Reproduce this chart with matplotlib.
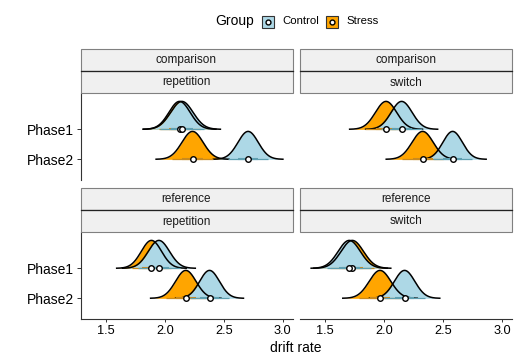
import numpy as np
import matplotlib.pyplot as plt
from matplotlib.patches import Rectangle

plt.rcParams['font.family'] = ['Liberation Sans', 'DejaVu Sans']

# facet labels (two strip rows per panel)
cue_labels = ["comparison", "comparison", "reference", "reference"]
trial_labels = ["repetition", "switch", "repetition", "switch"]
phases = ["Phase1", "Phase2"]
groups = ["Control", "Stress"]
x_ticks = [1.5, 2.0, 2.5, 3.0]
x_tick_labels = ["1.5", "2.0", "2.5", "3.0"]

# posterior drift rate summaries, per panel -> [Phase1, Phase2]
control_mean = [[2.145, 2.706], [2.147, 2.579], [1.950, 2.379], [1.703, 2.172]]
control_sd = [[0.095, 0.086], [0.089, 0.083], [0.090, 0.084], [0.094, 0.087]]
stress_mean = [[2.125, 2.235], [2.015, 2.325], [1.887, 2.178], [1.729, 1.964]]
stress_sd = [[0.090, 0.090], [0.090, 0.090], [0.086, 0.087], [0.095, 0.092]]

fill_colors = {"Control": "#ADD8E6", "Stress": "#FFA500"}
interval_colors = {"Control": "#5e9fb0", "Stress": "#c98a1e"}

W, H = 520, 364
fig = plt.figure(figsize=(W / 100, H / 100), dpi=100)


def px_axes(x0, y0, x1, y1):
    return fig.add_axes([x0 / W, 1 - y1 / H, (x1 - x0) / W, (y1 - y0) / H])


panel_boxes = [(80.5, 93, 292.5, 180), (300, 93, 512, 180),
               (80.5, 232, 292.5, 319), (300, 232, 512, 319)]
slab_h = 0.93

for i, box in enumerate(panel_boxes):
    ax = px_axes(*box)
    ax.set_xlim(1.286, 3.082)
    ax.set_ylim(-0.69, 2.21)
    for sp in ax.spines.values():
        sp.set_visible(False)
    left_col = i % 2 == 0
    bottom_row = i >= 2

    for j, phase in enumerate(phases):
        y0 = 1 - j
        stats = {"Stress": (stress_mean[i][j], stress_sd[i][j]),
                 "Control": (control_mean[i][j], control_sd[i][j])}
        # slabs: stress first, control on top
        for g in ["Stress", "Control"]:
            m, s = stats[g]
            x = np.linspace(m - 3.5 * s, m + 3.5 * s, 300)
            d = np.exp(-0.5 * ((x - m) / s) ** 2)
            ax.fill_between(x, y0, y0 + slab_h * d, color=fill_colors[g], lw=0, zorder=2)
            ax.plot(x, y0 + slab_h * d, color="black", lw=1.1, zorder=3,
                    solid_capstyle="butt")
        for g in ["Stress", "Control"]:
            m, s = stats[g]
            ax.plot([m - 1.96 * s, m + 1.96 * s], [y0, y0], color=interval_colors[g],
                    lw=0.9, zorder=4, solid_capstyle="butt")
            ax.plot([m - 0.95 * s, m + 0.95 * s], [y0, y0], color=interval_colors[g],
                    lw=1.5, zorder=4, solid_capstyle="butt")
        for g in ["Stress", "Control"]:
            m, s = stats[g]
            ax.plot([m], [y0], marker="o", ms=4, mfc="white", mec="black",
                    mew=1.0, zorder=5)

    ax.set_yticks([1, 0])
    if left_col:
        ax.spines["left"].set_visible(True)
        ax.spines["left"].set_color("#333333")
        ax.spines["left"].set_linewidth(0.8)
        ax.set_yticklabels(phases, fontsize=10, color="black")
        ax.tick_params(axis="y", length=3, width=0.7, color="#333333", pad=1.5)
    else:
        ax.set_yticklabels([])
        ax.tick_params(axis="y", length=0)

    ax.set_xticks(x_ticks)
    if bottom_row:
        ax.spines["bottom"].set_visible(True)
        ax.spines["bottom"].set_color("#333333")
        ax.spines["bottom"].set_linewidth(0.8)
        ax.set_xticklabels(x_tick_labels, fontsize=9.2, color="black")
        ax.tick_params(axis="x", length=2.5, width=0.7, color="#333333", pad=2)
    else:
        ax.set_xticklabels([])
        ax.tick_params(axis="x", length=0)
    ax.patch.set_alpha(0)

# overlay for strips and legend (pixel coordinates)
ov = fig.add_axes([0, 0, 1, 1], zorder=10)
ov.set_xlim(0, W)
ov.set_ylim(H, 0)
ov.axis("off")

strip_tops = [49, 49, 188, 188]
for i, box in enumerate(panel_boxes):
    x0, _, x1, _ = box
    t = strip_tops[i]
    for k, lab in enumerate([cue_labels[i], trial_labels[i]]):
        ov.add_patch(Rectangle((x0, t + 22 * k), x1 - x0, 22, facecolor="#F0F0F0",
                               edgecolor="#808080", lw=0.8))
        ov.text((x0 + x1) / 2, t + 22 * k + 11.5, lab, ha="center", va="center",
                fontsize=8.5, color="#1a1a1a")
    ov.plot([x0, x1], [t + 22, t + 22], color="#222222", lw=0.9)

# legend
ov.text(215, 21.5, "Group", ha="left", va="center", fontsize=10, color="black")
key_x = [262, 326]
for g, kx in zip(groups, key_x):
    ov.add_patch(Rectangle((kx, 15.5), 12, 12, facecolor=fill_colors[g],
                           edgecolor="#333333", lw=0.8))
    ov.plot([kx + 6], [21.5], marker="o", ms=3.5, mfc="white", mec="black", mew=1.0)
    ov.text(kx + 20, 21.5, g, ha="left", va="center", fontsize=8.2, color="black")

fig.text(296 / W, 1 - 348 / H, "drift rate", ha="center", va="center",
         fontsize=10, color="black")

fig.savefig("out.png", dpi=100)
